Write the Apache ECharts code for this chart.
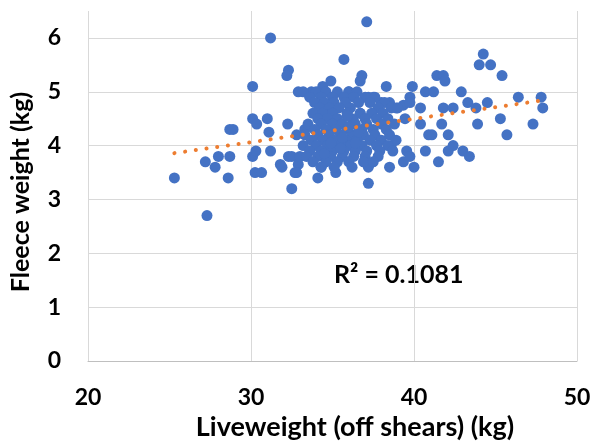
<!DOCTYPE html>
<html>
<head>
<meta charset="utf-8">
<script src="https://cdn.jsdelivr.net/npm/echarts@6/dist/echarts.min.js"></script>
<style>
  html, body { margin: 0; padding: 0; background: #fff; }
  #chart { width: 595px; height: 446px; }
</style>
</head>
<body>
<div id="chart"></div>
<script>
// liveweight (off shears), kg
const liveweight = [
  25.3, 27.3, 27.2, 27.8, 28.0, 28.7, 28.6, 28.7, 28.9,
  30.1, 30.1, 30.35, 31.0, 31.1, 30.1, 30.3, 30.25, 31.2,
  31.2, 30.65, 31.8, 31.9, 32.3, 32.5, 32.5, 32.7, 32.9, 32.8, 33.0,
  32.3, 32.2, 32.9, 32.25, 32.8, 33.3, 33.7, 34.4, 34.9,
  34.1, 34.3, 35.2,
  35.7, 36.8, 36.7, 37.1, 38.3, 36.0, 37.2, 37.5, 38.0, 38.5, 38.9, 39.35, 36.7, 36.3, 35.25,
  37.2, 37.2, 38.5, 38.6, 39.55, 39.35, 39.75, 40.0, 40.7, 41.5, 42.1, 43.0, 43.4, 42.4,
  39.9, 39.75, 39.75, 40.4, 40.7, 41.2, 41.4, 41.8, 41.9, 42.9, 43.3, 43.8, 44.5, 44.25, 44.0, 44.7,
  45.4, 41.8, 42.4, 46.4, 47.8, 47.9, 45.3, 43.9, 47.3, 45.7, 41.7, 40.4, 39.45, 40.9, 41.1, 42.1,
  // dense centre
  33.2, 34.0, 34.6, 35.3, 36.0, 36.5,
  33.6, 34.3, 35.0, 35.7, 36.3, 37.0, 37.6,
  33.9, 34.5, 35.1, 35.8, 36.6, 37.3, 38.2,
  34.2, 34.8, 35.4, 36.1, 37.8, 38.6, 39.0,
  33.8, 34.4, 35.0, 35.9, 36.7, 37.4, 38.1,
  34.1, 34.7, 35.3, 36.2, 37.0, 37.7, 38.4,
  33.5, 34.3, 35.0, 35.6, 36.4, 37.1, 38.0, 38.8,
  33.9, 34.6, 35.2, 35.9, 36.8, 37.5, 38.3,
  33.3, 34.1, 34.8, 35.5, 36.2, 36.9, 37.6, 38.5,
  33.7, 34.4, 35.1, 35.8, 36.5, 37.3, 38.0, 38.9,
  33.2, 34.0, 34.7, 35.4, 36.1, 36.8, 37.7, 38.4,
  33.6, 34.3, 35.0, 35.7, 36.4, 37.1, 37.9, 38.7,
  33.4, 34.1, 34.9, 35.6, 36.3, 37.0, 37.8,
  33.8, 34.6, 35.3, 36.0, 36.9, 37.5,
  34.3, 35.1, 36.2,
  34.9, 35.6, 36.4, 35.5, 36.0, 34.5, 35.9, 36.6
];

// fleece weight, kg
const fleeceWeight = [
  3.4, 2.7, 3.7, 3.6, 3.8, 3.8, 3.4, 4.3, 4.3,
  5.1, 4.5, 4.4, 4.5, 4.25, 3.8, 3.9, 3.5, 6.0,
  3.9, 3.5, 3.65, 3.6, 3.8, 3.8, 3.2, 3.5, 3.65, 3.5, 3.8,
  5.4, 5.3, 5.0, 4.4, 4.2, 4.3, 5.0, 5.1, 5.2,
  3.4, 3.6, 3.5,
  5.6, 5.3, 5.2, 6.3, 5.1, 5.0, 4.9, 4.9, 4.8, 4.8, 4.7, 4.75, 4.6, 4.45, 4.5,
  3.6, 3.3, 3.6, 4.0, 3.9, 3.7, 3.8, 3.6, 3.9, 3.7, 3.9, 3.9, 3.8, 4.0,
  5.1, 4.9, 4.8, 4.7, 5.0, 5.0, 5.3, 5.3, 5.2, 5.0, 4.8, 4.7, 4.8, 5.7, 5.5, 5.5,
  5.3, 4.7, 4.7, 4.9, 4.9, 4.7, 4.5, 4.4, 4.4, 4.2, 4.4, 4.4, 4.5, 4.2, 4.2, 4.2,
  5.0, 5.0, 5.0, 5.0, 5.0, 5.0,
  4.9, 4.9, 4.9, 4.9, 4.9, 4.9, 4.9,
  4.8, 4.8, 4.8, 4.8, 4.8, 4.8, 4.8,
  4.7, 4.7, 4.7, 4.7, 4.7, 4.7, 4.7,
  4.6, 4.6, 4.6, 4.6, 4.6, 4.6, 4.6,
  4.5, 4.5, 4.5, 4.5, 4.5, 4.5, 4.5,
  4.4, 4.4, 4.4, 4.4, 4.4, 4.4, 4.4, 4.4,
  4.3, 4.3, 4.3, 4.3, 4.3, 4.3, 4.3,
  4.2, 4.2, 4.2, 4.2, 4.2, 4.2, 4.2, 4.2,
  4.1, 4.1, 4.1, 4.1, 4.1, 4.1, 4.1, 4.1,
  4.0, 4.0, 4.0, 4.0, 4.0, 4.0, 4.0, 4.0,
  3.9, 3.9, 3.9, 3.9, 3.9, 3.9, 3.9, 3.9,
  3.8, 3.8, 3.8, 3.8, 3.8, 3.8, 3.8,
  3.7, 3.7, 3.7, 3.7, 3.7, 3.7,
  3.6, 3.6, 3.6,
  4.05, 4.15, 4.05, 3.95, 4.35, 3.85, 4.55, 4.25
];

// linear trendline ends (as drawn in the original)
const trendX = [25.3, 47.9];
const trendY = [3.86, 4.84];
const rSquared = "R² = 0.1081";

const xTicks = { min: 20, max: 50, interval: 10 };
const yTicks = { min: 0, max: 6.5, interval: 1 };

const points = liveweight.map((x, i) => [x, fleeceWeight[i]]);
const trend = trendX.map((x, i) => [x, trendY[i]]);

const font = "Lato, 'Open Sans', sans-serif";
const chart = echarts.init(document.getElementById("chart"));

chart.setOption({
  animation: false,
  textStyle: { fontFamily: font },
  grid: { left: 88, right: 18, top: 11, bottom: 85 },
  xAxis: {
    type: "value",
    ...xTicks,
    name: "Liveweight (off shears) (kg)",
    nameLocation: "middle",
    nameGap: 48,
    nameTextStyle: { fontSize: 27, fontWeight: "bold", color: "#000", padding: [0, 0, 0, 45] },
    axisLine: { lineStyle: { color: "#BFBFBF", width: 1 } },
    axisTick: { show: false },
    axisLabel: { fontSize: 23, fontWeight: "bold", color: "#000", margin: 25 },
    splitLine: { lineStyle: { color: "#D9D9D9", width: 1 } }
  },
  yAxis: {
    type: "value",
    ...yTicks,
    name: "Fleece weight (kg)",
    nameLocation: "middle",
    nameGap: 55,
    nameTextStyle: { fontSize: 25, fontWeight: "bold", color: "#000", padding: [0, 12, 0, 0] },
    axisLine: { show: false },
    axisTick: { show: false },
    axisLabel: { fontSize: 23, fontWeight: "bold", color: "#000", margin: 27, showMaxLabel: false },
    splitLine: { showMaxLine: false, lineStyle: { color: "#D9D9D9", width: 1 } }
  },
  graphic: [
    {
      type: "text",
      left: 334,
      top: 262,
      style: { text: rSquared, font: "bold 25px " + font, fill: "#000" }
    }
  ],
  series: [
    {
      type: "scatter",
      data: points,
      symbolSize: 11,
      itemStyle: { color: "#4472C4", opacity: 1 },
      z: 2
    },
    {
      type: "line",
      data: trend,
      symbol: "none",
      lineStyle: { color: "#ED7D31", width: 4, type: [0.1, 10.7], cap: "round" },
      z: 3
    }
  ]
});
</script>
</body>
</html>
